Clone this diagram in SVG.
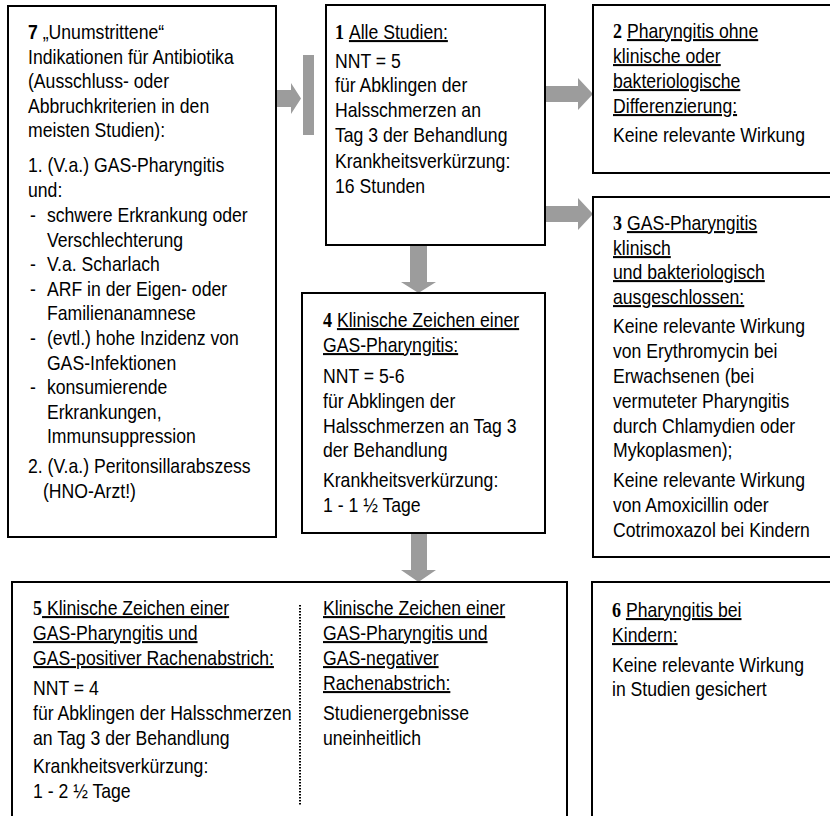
<svg xmlns="http://www.w3.org/2000/svg" width="830" height="816" viewBox="0 0 830 816">
<style>
text { font-family: "Liberation Sans", Arial, sans-serif; font-size: 20.5px; fill: #000; }
.n { font-family: "Liberation Serif", "Times New Roman", serif; font-weight: bold; font-size: 21px; }
.ns { font-weight: bold; }
.u { text-decoration: underline; }
.box { fill: #fff; stroke: #000; stroke-width: 2; }
.arr { fill: #9c9c9c; stroke: none; }
.sep { stroke: #000; stroke-width: 2; stroke-dasharray: 1.5 1.5; fill: none; }
</style>
<rect width="830" height="816" fill="#fff"/>
<g id="connectors">
  <polygon class="arr" points="277,90 291,90 291,83 301,98.5 291,114 291,107 277,107"/>
  <rect class="arr" x="303" y="55" width="11" height="80"/>
  <polygon class="arr" points="545,86 578,86 578,78 593,94 578,110 578,102 545,102"/>
  <polygon class="arr" points="545,206 578,206 578,198 593,214 578,230 578,222 545,222"/>
  <polygon class="arr" points="410,245 427,245 427,282 436,282 418.5,293 401,282 410,282"/>
  <polygon class="arr" points="411,533 427,533 427,570 436,570 418.5,582 401,570 411,570"/>
</g>
<g id="node7">
  <rect class="box" x="8" y="6" width="268" height="531"/>
  <g transform="translate(28 0) scale(0.86 1)">
    <text x="0" y="39"><tspan class="ns">7</tspan> „Unumstrittene“</text>
    <text x="0" y="63.6">Indikationen für Antibiotika</text>
    <text x="0" y="88.2">(Ausschluss- oder</text>
    <text x="0" y="112.8">Abbruchkriterien in den</text>
    <text x="0" y="137.4">meisten Studien):</text>
    <text x="0" y="172">1. (V.a.) GAS-Pharyngitis</text>
    <text x="0" y="196.6">und:</text>
    <text x="2.3" y="222">-</text><text x="22" y="222">schwere Erkrankung oder</text>
    <text x="22" y="246.6">Verschlechterung</text>
    <text x="2.3" y="271.2">-</text><text x="22" y="271.2">V.a. Scharlach</text>
    <text x="2.3" y="295.8">-</text><text x="22" y="295.8">ARF in der Eigen- oder</text>
    <text x="22" y="320.4">Familienanamnese</text>
    <text x="2.3" y="345">-</text><text x="22" y="345">(evtl.) hohe Inzidenz von</text>
    <text x="22" y="369.6">GAS-Infektionen</text>
    <text x="2.3" y="394.2">-</text><text x="22" y="394.2">konsumierende</text>
    <text x="22" y="418.8">Erkrankungen,</text>
    <text x="22" y="443.4">Immunsuppression</text>
    <text x="0" y="473">2. (V.a.) Peritonsillarabszess</text>
    <text x="17.4" y="497.6">(HNO-Arzt!)</text>
  </g>
</g>
<g id="node1">
  <rect class="box" x="326" y="5" width="219" height="240"/>
  <g transform="translate(335 0) scale(0.86 1)">
    <text x="0" y="39"><tspan class="n">1</tspan> <tspan class="u">Alle Studien:</tspan></text>
    <text x="0" y="68">NNT = 5</text>
    <text x="0" y="92.5">für Abklingen der</text>
    <text x="0" y="117">Halsschmerzen an</text>
    <text x="0" y="142">Tag 3 der Behandlung</text>
    <text x="0" y="168">Krankheitsverkürzung:</text>
    <text x="0" y="193">16 Stunden</text>
  </g>
</g>
<g id="node2">
  <rect class="box" x="593" y="5" width="240" height="168"/>
  <g transform="translate(613 0) scale(0.86 1)">
    <text x="0" y="38"><tspan class="n">2</tspan> <tspan class="u">Pharyngitis ohne</tspan></text>
    <text x="0" y="63" class="u">klinische oder</text>
    <text x="0" y="88" class="u">bakteriologische</text>
    <text x="0" y="113" class="u">Differenzierung:</text>
    <text x="0" y="142">Keine relevante Wirkung</text>
  </g>
</g>
<g id="node3">
  <rect class="box" x="593" y="197" width="240" height="360"/>
  <g transform="translate(613 0) scale(0.86 1)">
    <text x="0" y="230"><tspan class="n">3</tspan> <tspan class="u">GAS-Pharyngitis</tspan></text>
    <text x="0" y="255" class="u">klinisch</text>
    <text x="0" y="279" class="u">und bakteriologisch</text>
    <text x="0" y="304" class="u">ausgeschlossen:</text>
    <text x="0" y="333">Keine relevante Wirkung</text>
    <text x="0" y="358">von Erythromycin bei</text>
    <text x="0" y="383">Erwachsenen (bei</text>
    <text x="0" y="408">vermuteter Pharyngitis</text>
    <text x="0" y="433">durch Chlamydien oder</text>
    <text x="0" y="457">Mykoplasmen);</text>
    <text x="0" y="487">Keine relevante Wirkung</text>
    <text x="0" y="512">von Amoxicillin oder</text>
    <text x="0" y="537">Cotrimoxazol bei Kindern</text>
  </g>
</g>
<g id="node4">
  <rect class="box" x="302" y="293" width="243" height="240"/>
  <g transform="translate(323 0) scale(0.86 1)">
    <text x="0" y="327"><tspan class="n">4</tspan> <tspan class="u">Klinische Zeichen einer</tspan></text>
    <text x="0" y="352" class="u">GAS-Pharyngitis:</text>
    <text x="0" y="383">NNT = 5-6</text>
    <text x="0" y="408">für Abklingen der</text>
    <text x="0" y="433">Halsschmerzen an Tag 3</text>
    <text x="0" y="457">der Behandlung</text>
    <text x="0" y="487">Krankheitsverkürzung:</text>
    <text x="0" y="512">1 - 1 ½ Tage</text>
  </g>
</g>
<g id="node5">
  <rect class="box" x="12" y="582" width="555" height="240"/>
  <line class="sep" x1="300" y1="605" x2="300" y2="805"/>
  <g transform="translate(33 0) scale(0.86 1)">
    <text x="0" y="615"><tspan class="n">5</tspan><tspan class="u"> Klinische Zeichen einer</tspan></text>
    <text x="0" y="640" class="u">GAS-Pharyngitis und</text>
    <text x="0" y="665" class="u">GAS-positiver Rachenabstrich:</text>
    <text x="0" y="695">NNT = 4</text>
    <text x="0" y="720">für Abklingen der Halsschmerzen</text>
    <text x="0" y="745">an Tag 3 der Behandlung</text>
    <text x="0" y="773">Krankheitsverkürzung:</text>
    <text x="0" y="798">1 - 2 ½ Tage</text>
  </g>
  <g transform="translate(323 0) scale(0.86 1)">
    <text x="0" y="615" class="u">Klinische Zeichen einer</text>
    <text x="0" y="640" class="u">GAS-Pharyngitis und</text>
    <text x="0" y="665" class="u">GAS-negativer</text>
    <text x="0" y="690" class="u">Rachenabstrich:</text>
    <text x="0" y="720">Studienergebnisse</text>
    <text x="0" y="745">uneinheitlich</text>
  </g>
</g>
<g id="node6">
  <rect class="box" x="592" y="582" width="240" height="240"/>
  <g transform="translate(612 0) scale(0.86 1)">
    <text x="0" y="617"><tspan class="n">6</tspan> <tspan class="u">Pharyngitis bei</tspan></text>
    <text x="0" y="642" class="u">Kindern:</text>
    <text x="0" y="672">Keine relevante Wirkung</text>
    <text x="0" y="696">in Studien gesichert</text>
  </g>
</g>
</svg>
